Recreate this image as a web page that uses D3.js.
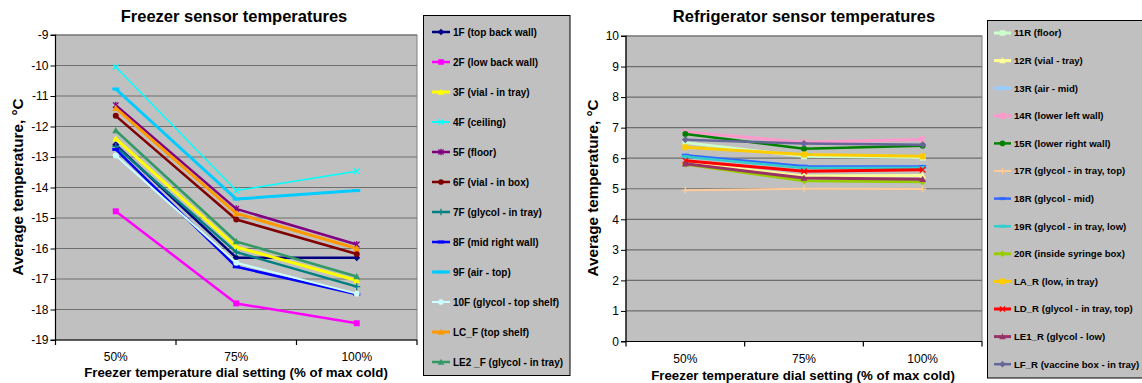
<!DOCTYPE html>
<html><head><meta charset="utf-8">
<script src="https://cdn.jsdelivr.net/npm/d3@7"></script>
<style>
html,body{margin:0;padding:0;background:#fff;}
svg text{font-family:"Liberation Sans",Arial,sans-serif;}
</style></head>
<body>
<svg id="c" width="1142" height="383"></svg>
<script>
// ---------- DATA ----------
const categories = ["50%", "75%", "100%"];

const freezerTicks = [-19, -18, -17, -16, -15, -14, -13, -12, -11, -10, -9];
const fridgeTicks = [0, 1, 2, 3, 4, 5, 6, 7, 8, 9, 10];

const freezerNames = ["1F (top back wall)", "2F (low back wall)", "3F (vial - in tray)", "4F (ceiling)",
  "5F (floor)", "6F (vial - in box)", "7F (glycol - in tray)", "8F (mid right wall)", "9F (air  - top)",
  "10F (glycol - top shelf)", "LC_F (top shelf)", "LE2 _F (glycol - in tray)"];
const v1F = [-12.6, -16.3, -16.3];
const v2F = [-14.78, -17.8, -18.45];
const v3F = [-12.4, -15.95, -17.05];
const v4F = [-10.05, -14.1, -13.47];
const v5F = [-11.3, -14.7, -15.87];
const v6F = [-11.65, -15.05, -16.18];
const v7F = [-12.65, -16.12, -17.25];
const v8F = [-12.75, -16.6, -17.5];
const v9F = [-10.77, -14.38, -14.1];
const v10F = [-12.95, -16.47, -17.48];
const vLCF = [-11.4, -14.85, -16.0];
const vLE2F = [-12.13, -15.77, -16.92];
const freezerValues = [v1F, v2F, v3F, v4F, v5F, v6F, v7F, v8F, v9F, v10F, vLCF, vLE2F];

const fridgeNames = ["11R (floor)", "12R (vial - tray)", "13R (air - mid)", "14R (lower left wall)",
  "15R (lower right wall)", "17R (glycol - in tray, top)", "18R (glycol - mid)", "19R (glycol - in tray, low)",
  "20R (inside syringe box)", "LA_R (low, in tray)", "LD_R (glycol - in tray, top)", "LE1_R (glycol - low)",
  "LF_R (vaccine box - in tray)"];
const v11R = [6.51, 6.06, 6.02];
const v12R = [5.86, 5.42, 5.43];
const v13R = [6.08, 5.72, 5.72];
const v14R = [6.86, 6.52, 6.61];
const v15R = [6.79, 6.31, 6.41];
const v17R = [4.95, 5.0, 4.99];
const v18R = [6.1, 5.74, 5.73];
const v19R = [6.05, 5.68, 5.69];
const v20R = [5.8, 5.26, 5.23];
const vLAR = [6.36, 6.12, 6.06];
const vLDR = [5.92, 5.57, 5.62];
const vLE1R = [5.82, 5.35, 5.31];
const vLFR = [6.6, 6.48, 6.44];
const fridgeValues = [v11R, v12R, v13R, v14R, v15R, v17R, v18R, v19R, v20R, vLAR, vLDR, vLE1R, vLFR];

// ---------- STYLES ----------
const freezerColors = ["#000080", "#FF00FF", "#FFFF00", "#00FFFF", "#800080", "#800000", "#008080", "#0000FF",
  "#00CCFF", "#CCFFFF", "#FF9900", "#339966"];
const freezerMarkers = ["diamond", "square", "triangle", "x", "star", "circle", "plus", "dash", "dash",
  "circle", "triangle", "triangle"];
const freezerWidths = [2.5, 2.5, 3, 1.5, 2.5, 2.5, 2.5, 2.5, 3, 2, 3, 2.5];

const fridgeColors = ["#CCFFCC", "#FFFF99", "#99CCFF", "#FF99CC", "#008000", "#FFCC99", "#3366FF", "#33CCCC",
  "#99CC00", "#FFCC00", "#FF0000", "#993366", "#666699"];
const fridgeMarkers = ["square", "triangle", "x", "star", "circle", "plus", "dash", "dash", "diamond",
  "square", "x", "triangle", "diamond"];
const fridgeWidths = [3, 3, 3, 3, 2.5, 2, 2.5, 2.5, 3, 3, 3, 3, 2.5];

// ---------- DRAW ----------
const svg = d3.select("#c");
const FONT = '"Liberation Sans",Arial,sans-serif';

function marker(g, type, x, y, color, r) {
  if (type === "diamond") {
    g.append("path").attr("d", `M${x},${y - r}L${x + r},${y}L${x},${y + r}L${x - r},${y}Z`).attr("fill", color);
  } else if (type === "square") {
    g.append("rect").attr("x", x - r * 0.85).attr("y", y - r * 0.85).attr("width", r * 1.7).attr("height", r * 1.7).attr("fill", color);
  } else if (type === "triangle") {
    g.append("path").attr("d", `M${x},${y - r}L${x + r},${y + r * 0.8}L${x - r},${y + r * 0.8}Z`).attr("fill", color);
  } else if (type === "circle") {
    g.append("circle").attr("cx", x).attr("cy", y).attr("r", r * 0.85).attr("fill", color);
  } else if (type === "x") {
    const k = r * 0.8;
    g.append("path").attr("d", `M${x - k},${y - k}L${x + k},${y + k}M${x - k},${y + k}L${x + k},${y - k}`)
      .attr("stroke", color).attr("stroke-width", 1.3).attr("fill", "none");
  } else if (type === "star") {
    const k = r * 0.8;
    g.append("path").attr("d", `M${x - k},${y - k}L${x + k},${y + k}M${x - k},${y + k}L${x + k},${y - k}M${x},${y - r}L${x},${y + r}`)
      .attr("stroke", color).attr("stroke-width", 1.3).attr("fill", "none");
  } else if (type === "plus") {
    g.append("path").attr("d", `M${x - r},${y}L${x + r},${y}M${x},${y - r}L${x},${y + r}`)
      .attr("stroke", color).attr("stroke-width", 1.3).attr("fill", "none");
  } else if (type === "dash") {
    g.append("path").attr("d", `M${x - r},${y}L${x + r},${y}`)
      .attr("stroke", color).attr("stroke-width", 3).attr("fill", "none");
  }
}

function chart(opt) {
  const g = svg.append("g");
  const x = d3.scaleBand().domain(categories).range([opt.x0, opt.x1]);
  const y = d3.scaleLinear().domain(opt.domain).range([opt.yb, opt.yt]);

  // plot area
  g.append("rect").attr("x", opt.x0).attr("y", opt.yt).attr("width", opt.x1 - opt.x0).attr("height", opt.yb - opt.yt)
    .attr("fill", "#C0C0C0").attr("stroke", "#808080").attr("stroke-width", 1);

  // gridlines
  g.append("g").selectAll("line").data(opt.ticks.slice(1, -1)).join("line")
    .attr("x1", opt.x0).attr("x2", opt.x1).attr("y1", d => y(d)).attr("y2", d => y(d))
    .attr("stroke", "#6e6e6e").attr("stroke-width", 1.2);
  g.append("line").attr("x1", opt.x0).attr("x2", opt.x1).attr("y1", opt.yt).attr("y2", opt.yt)
    .attr("stroke", "#6e6e6e").attr("stroke-width", 1.2);

  // y axis
  const ya = d3.axisLeft(y).tickValues(opt.ticks).tickSize(5).tickFormat(d3.format("d"));
  const yg = g.append("g").attr("transform", `translate(${opt.x0},0)`).call(ya);
  yg.select(".domain").attr("stroke", "#000").attr("stroke-width", 1.2).attr("d", `M-5,${opt.yt}H0V${opt.yb}H-5`);
  yg.selectAll(".tick line").attr("stroke", "#000");
  yg.selectAll(".tick text").attr("font-family", FONT).attr("font-size", 12).attr("fill", "#000").attr("x", -7)
    .text(d => d3.format("d")(d).replace("−", "-"));

  // x axis
  const xa = d3.axisBottom(x).tickSize(0).tickPadding(0);
  const xg = g.append("g").attr("transform", `translate(0,${opt.yb})`).call(xa);
  xg.select(".domain").attr("stroke", "#000").attr("stroke-width", 1.2).attr("d", `M${opt.x0},0H${opt.x1}`);
  xg.selectAll(".tick text").attr("font-family", FONT).attr("font-size", 12).attr("fill", "#000")
    .attr("y", opt.xlabY - opt.yb).attr("dy", "0.35em");
  const bounds = [0, 1, 2, 3].map(i => opt.x0 + i * x.step());
  g.append("g").selectAll("line").data(bounds).join("line")
    .attr("x1", d => d).attr("x2", d => d).attr("y1", opt.yb).attr("y2", opt.yb + 5)
    .attr("stroke", "#000").attr("stroke-width", 1.2);

  // series
  const line = d3.line().x((d, i) => x(categories[i]) + x.bandwidth() / 2).y(d => y(d));
  opt.values.forEach((vals, si) => {
    const sg = g.append("g");
    sg.append("path").attr("d", line(vals)).attr("fill", "none").attr("stroke", opt.colors[si])
      .attr("stroke-width", opt.widths[si]).attr("stroke-linejoin", "round");
    vals.forEach((v, i) => marker(sg, opt.markers[si], x(categories[i]) + x.bandwidth() / 2, y(v), opt.colors[si], 3.5));
  });

  // titles
  g.append("text").attr("x", opt.titleX).attr("y", opt.titleY).attr("text-anchor", "middle").attr("dy", "0.35em")
    .attr("font-family", FONT).attr("font-weight", "bold").attr("font-size", 16.5).text(opt.title);
  g.append("text").attr("x", opt.xtitleX).attr("y", opt.xtitleY).attr("text-anchor", "middle").attr("dy", "0.35em")
    .attr("font-family", FONT).attr("font-weight", "bold").attr("font-size", 13.3)
    .text("Freezer temperature dial setting (% of max cold)");
  g.append("text").attr("transform", `translate(${opt.ytitleX},${opt.ytitleY}) rotate(-90)`).attr("text-anchor", "middle")
    .attr("dy", "0.35em").attr("font-family", FONT).attr("font-weight", "bold").attr("font-size", 15.2)
    .text("Average temperature, °C");

  // legend
  const L = opt.legend;
  g.append("rect").attr("x", L.x).attr("y", L.y).attr("width", L.w).attr("height", L.h)
    .attr("fill", "#C0C0C0").attr("stroke", "#000").attr("stroke-width", 1);
  opt.names.forEach((n, i) => {
    const yy = L.first + i * L.step;
    const lg = g.append("g");
    lg.append("line").attr("x1", L.lx0).attr("x2", L.lx1).attr("y1", yy).attr("y2", yy)
      .attr("stroke", opt.colors[i]).attr("stroke-width", Math.max(2, opt.widths[i]));
    marker(lg, opt.markers[i], (L.lx0 + L.lx1) / 2, yy, opt.colors[i], 3.3);
    lg.append("text").attr("x", L.tx).attr("y", yy).attr("dy", "0.35em").attr("font-family", FONT)
      .attr("font-weight", "bold").attr("font-size", L.fs).attr("fill", "#000").text(n);
  });
}

chart({
  x0: 55.5, x1: 417, yt: 35, yb: 340, domain: [-19, -9], ticks: freezerTicks,
  values: freezerValues, names: freezerNames, colors: freezerColors, markers: freezerMarkers, widths: freezerWidths,
  title: "Freezer sensor temperatures", titleX: 234, titleY: 16,
  xlabY: 357, xtitleX: 236, xtitleY: 372, ytitleX: 18, ytitleY: 187,
  legend: { x: 423.5, y: 15.5, w: 146.5, h: 360, first: 32, step: 30, lx0: 432, lx1: 450, tx: 453, fs: 10 }
});

chart({
  x0: 626, x1: 982, yt: 36, yb: 341.5, domain: [0, 10], ticks: fridgeTicks,
  values: fridgeValues, names: fridgeNames, colors: fridgeColors, markers: fridgeMarkers, widths: fridgeWidths,
  title: "Refrigerator sensor temperatures", titleX: 804, titleY: 16.5,
  xlabY: 359, xtitleX: 803, xtitleY: 375, ytitleX: 593, ytitleY: 188,
  legend: { x: 987.5, y: 20.5, w: 170, h: 357.5, first: 33, step: 27.6, lx0: 994, lx1: 1011, tx: 1014, fs: 9.6 }
});
</script>
</body></html>
